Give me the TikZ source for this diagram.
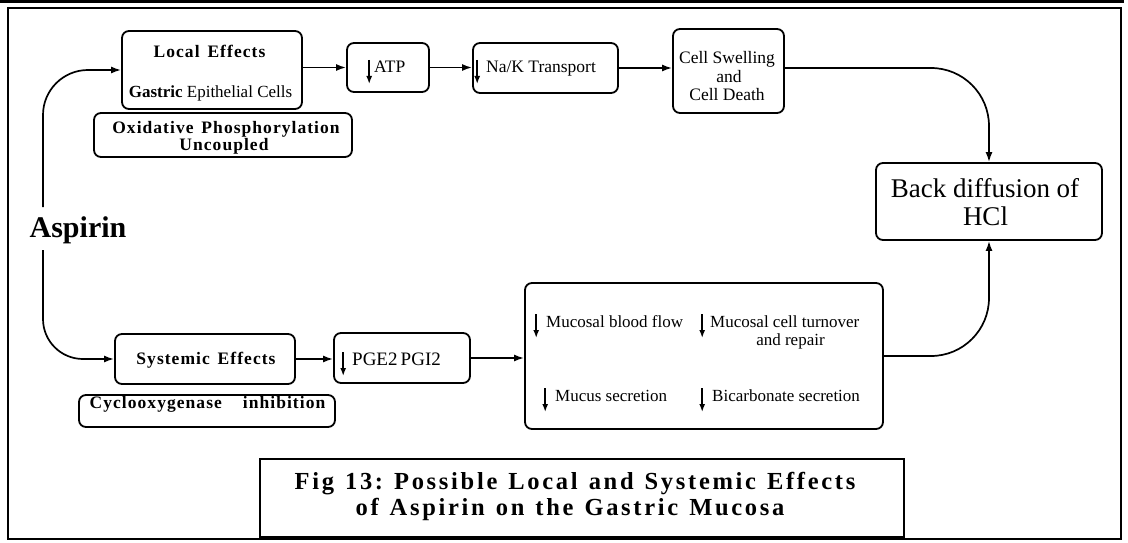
\documentclass[tikz,border=0pt]{standalone}
\usepackage{fontspec}
\setmainfont{Liberation Serif}
\newfontfamily\spacedbold{Liberation Serif}[LetterSpace=6]
\newfontfamily\captionbold{Liberation Serif}[LetterSpace=11]
\usetikzlibrary{arrows.meta}

% font size helper
\newcommand{\sz}[1]{\fontsize{#1}{#1}\selectfont}
% thin "decrease" arrow set in the running text
\newcommand{\dnarrow}{\tikz[baseline=0pt]\draw[line width=1.5pt,-{Latex[length=8pt,width=6pt]}] (0pt,13pt) -- (0pt,-11pt);}
% wider gap between words of the spaced labels
\newcommand{\wgap}{\hspace{0.45em}}

\tikzset{
  box/.style={draw, line width=1.8pt, rounded corners=7pt, inner sep=0pt},
  flow/.style={line width=1.7pt, -{Latex[length=10pt,width=7pt]}},
  txt/.style={inner sep=0pt, anchor=base},
  txtw/.style={inner sep=0pt, anchor=base west},
  lbl/.style={font=\spacedbold\bfseries\sz{17.5}},
  reg/.style={font=\sz{17.5}},
  capt/.style={font=\captionbold\bfseries\sz{24.5}},
}

\begin{document}
\begin{tikzpicture}[x=1pt,y=-1pt]
\useasboundingbox (0,0) rectangle (1128,543);

% outer frame
\draw[line width=3pt] (0,1.5) -- (1124,1.5);
\draw[line width=2pt] (8,8) rectangle (1121,539);

% ---- boxes ----
\node[box, minimum width=180pt, minimum height=78pt]  (local) at (212,70) {};
\node[box, minimum width=258pt, minimum height=44pt]  (oxid)  at (223,135) {};
\node[box, minimum width=82pt,  minimum height=49pt]  (atp)   at (388,67.5) {};
\node[box, minimum width=145pt, minimum height=50pt]  (nak)   at (545.5,68) {};
\node[box, minimum width=111pt, minimum height=84pt]  (cell)  at (728.5,71) {};
\node[box, minimum width=226pt, minimum height=77pt]  (back)  at (989,201.5) {};
\node[box, minimum width=180pt, minimum height=50pt]  (sys)   at (205,359) {};
\node[box, minimum width=256pt, minimum height=32pt]  (cox)   at (207,411) {};
\node[box, minimum width=136pt, minimum height=50pt]  (pge)   at (402,358) {};
\node[box, minimum width=358pt, minimum height=146pt] (muc)   at (704,356) {};
\node[draw, line width=1.8pt, inner sep=0pt, minimum width=644pt, minimum height=78pt] (cap) at (582,498) {};

% ---- texts ----
\node[txt, lbl] (localtitle) at (209.5,58) {Local\wgap Effects};
\node[txt, font=\sz{17}] (localsub) at (210.5,98) {\textbf{Gastric} Epithelial Cells};
\node[txt, lbl] (oxid1) at (226,133) {Oxidative\wgap Phosphorylation};
\node[txt, lbl] (oxid2) at (224,150) {Uncoupled};

\node[txtw, reg] (atptext) at (366,73) {\dnarrow\hspace{2pt}ATP};
\node[txtw, reg] (naktext) at (474,73) {\dnarrow\hspace{6pt}Na/K Transport};

\node[txt, reg] (cell1) at (727,64) {Cell Swelling};
\node[txt, reg] (cell2) at (729,82) {and};
\node[txt, reg] (cell3) at (727,100) {Cell Death};

\node[txt, font=\sz{27}] (back1) at (985,197) {Back diffusion of};
\node[txt, font=\sz{27}] (back2) at (985.5,225) {HCl};

\node[txt, font=\bfseries\sz{30}] (aspirin) at (78,237) {Aspirin};

\node[txt, lbl] (systext) at (206,364) {Systemic\wgap Effects};
\node[txt, lbl] (coxtext) at (207.5,408) {Cyclooxygenase\hspace{1.2em}inhibition};

\node[txtw, font=\sz{19}] (pgetext) at (340,365) {\dnarrow\hspace{6pt}PGE2\,PGI2};

\node[txtw, font=\sz{17}] (muc1) at (533,327) {\dnarrow\hspace{7pt}Mucosal blood flow};
\node[txtw, font=\sz{17}] (muc2) at (699,327) {\dnarrow\hspace{5pt}Mucosal cell turnover};
\node[txt,  font=\sz{17}] (muc2b) at (790.5,345) {and repair};
\node[txtw, font=\sz{17}] (muc3) at (542,401) {\dnarrow\hspace{7pt}Mucus secretion};
\node[txtw, font=\sz{17}] (muc4) at (699,401) {\dnarrow\hspace{7pt}Bicarbonate secretion};

\node[txt, capt] (cap1) at (575,489) {Fig\wgap 13:\wgap Possible\wgap Local\wgap and\wgap Systemic\wgap Effects};
\node[txt, capt] (cap2) at (570,515) {of\wgap Aspirin\wgap on\wgap the\wgap Gastric\wgap Mucosa};

% ---- connectors ----
\coordinate (trunktop) at (43,207);
\coordinate (trunkbot) at (43,250);

\draw[flow, rounded corners=45pt] (trunktop) |- (local.west);
\draw[flow, rounded corners=40pt] (trunkbot) |- (sys.west);

\draw[flow] (atp.west -| local.east) -- (atp.west);
\draw[flow] (atp.east) -- (atp.east -| nak.west);
\draw[flow] (nak.east) -- (nak.east -| cell.west);
\draw[flow, rounded corners=58pt] (cell.east |- nak.east) -| (back.north);

\draw[flow] (sys.east) -- (sys.east -| pge.west);
\draw[flow] (pge.east) -- (pge.east -| muc.west);
\draw[flow, rounded corners=58pt] (muc.east) -| (back.south);

\end{tikzpicture}
\end{document}
